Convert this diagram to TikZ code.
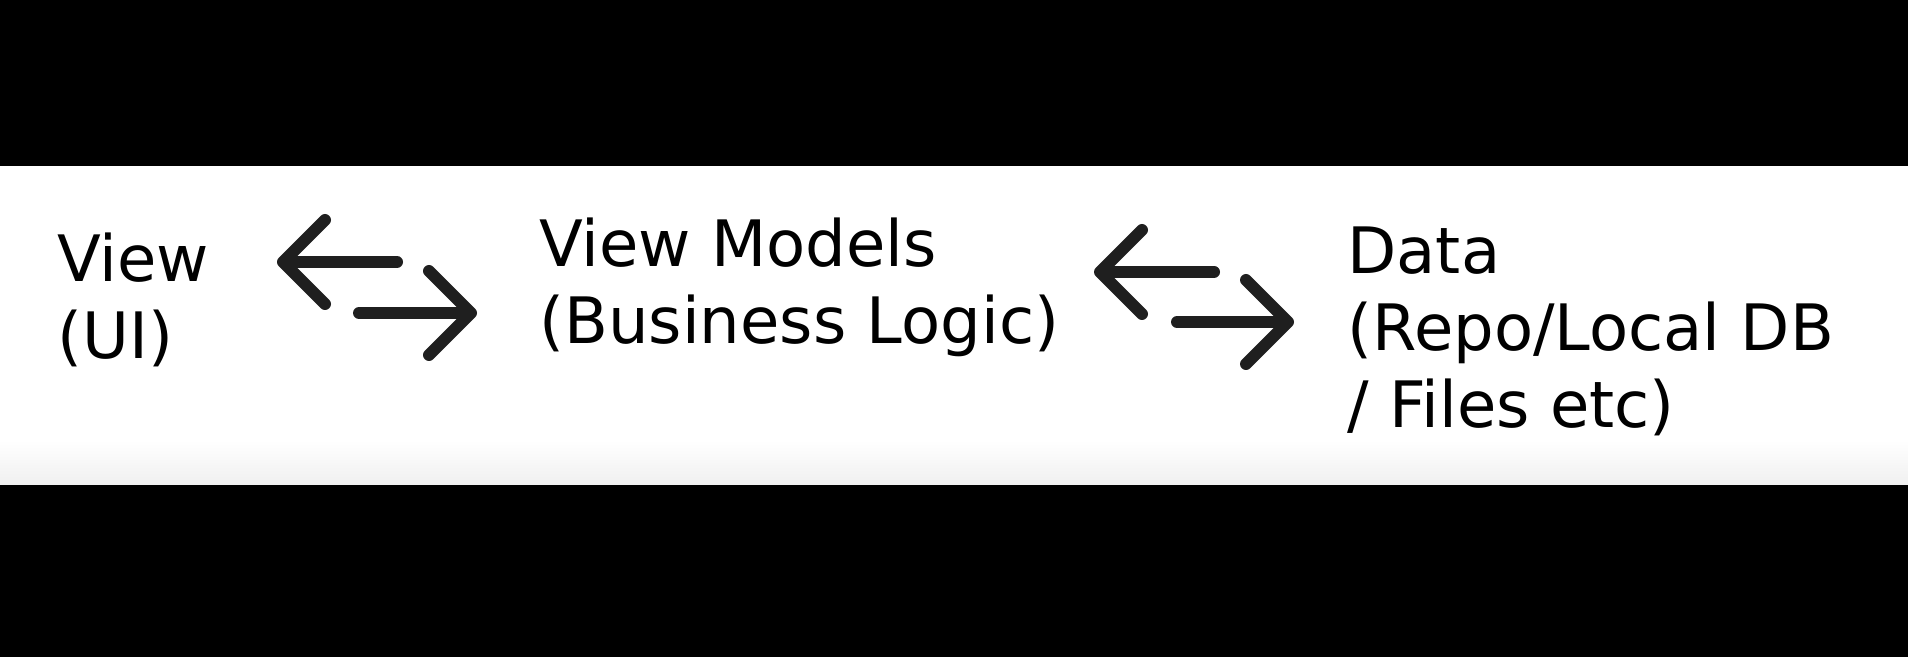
\documentclass[tikz,border=0pt]{standalone}
\usepackage{fontspec}
\setmainfont{DejaVu Sans}
\usetikzlibrary{positioning, arrows.meta}

\tikzset{
  blocco/.style={anchor=base west, align=left, inner sep=0pt, font=\fontsize{32}{38.5}\selectfont},
  freccia/.style={line width=6pt, draw=black!88, line cap=round, -{Straight Barb[length=21pt, width=42pt, round]}}
}

\begin{document}
\begin{tikzpicture}[x=0.5pt, y=-0.5pt]
  % Sfondo
  \useasboundingbox (0,0) rectangle (1908,657);
  \fill[black] (0,0) rectangle (1908,657);
  \fill[white] (0,166) rectangle (1908,485);
  \shade[top color=white, bottom color=black!6] (0,440) rectangle (1908,485);

  % Livelli (ancorati alla base dell'ultima riga)
  \node[blocco] (view) at (57,359) {View\\(UI)};
  \node[blocco] (viewmodel) at (539,344) {View Models\\(Business Logic)};
  \node[blocco] (data) at (1347,428) {Data\\(Repo/Local DB\\/ Files etc)};

  % Estremi delle frecce
  \coordinate (vmToViewA) at (397,262);
  \coordinate (vmToViewB) at (277,262);
  \coordinate (viewToVmA) at (359,313);
  \coordinate (viewToVmB) at (477,313);
  \coordinate (dataToVmA) at (1214,272);
  \coordinate (dataToVmB) at (1094,272);
  \coordinate (vmToDataA) at (1177,322);
  \coordinate (vmToDataB) at (1294,322);

  % Frecce
  \draw[freccia] (vmToViewA) -- (vmToViewB);
  \draw[freccia] (viewToVmA) -- (viewToVmB);
  \draw[freccia] (dataToVmA) -- (dataToVmB);
  \draw[freccia] (vmToDataA) -- (vmToDataB);
\end{tikzpicture}
\end{document}
